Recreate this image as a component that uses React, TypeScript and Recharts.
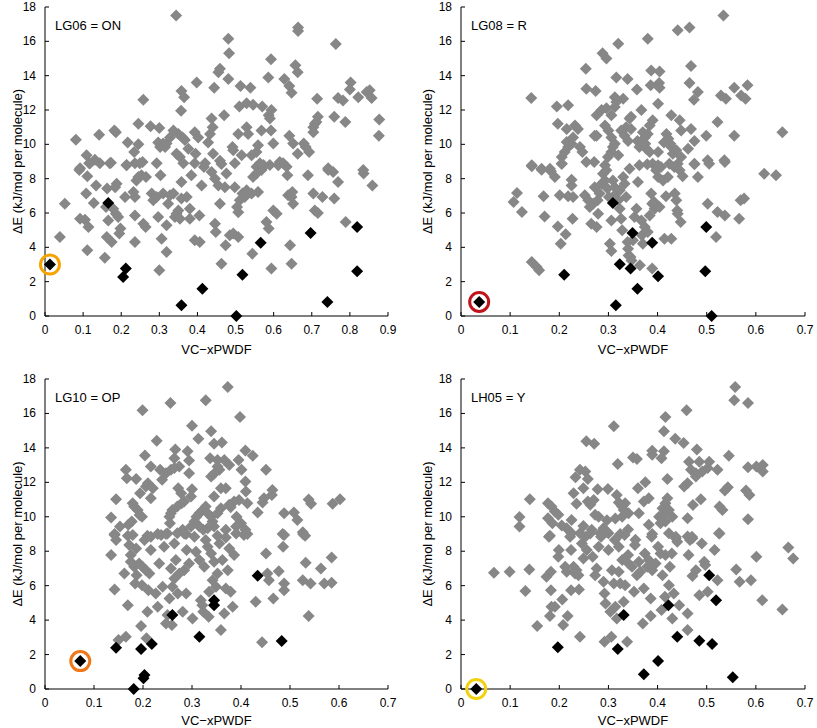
import React from 'react';
import { ScatterChart, Scatter, XAxis, YAxis } from 'recharts';

const FONT = '"Liberation Sans", Arial, Helvetica, sans-serif';
const GRAY = '#878787';

const yTicks = [0, 2, 4, 6, 8, 10, 12, 14, 16, 18];
const xTicks09 = [0, 0.1, 0.2, 0.3, 0.4, 0.5, 0.6, 0.7, 0.8, 0.9];
const xTicks07 = [0, 0.1, 0.2, 0.3, 0.4, 0.5, 0.6, 0.7];

const xTitle = 'VC\u2212xPWDF';
const yTitle = '\u0394E (kJ/mol per molecule)';

// ---------- LG06 = ON ----------
const lg06Gray: number[][] = [
  [0.081,10.27],[0.109,9.36],[0.092,8.6],[0.118,8.9],[0.131,9.1],[0.142,10.56],[0.173,8.93],[0.182,10.8],[0.186,10.7],[0.217,10.1],[0.214,8.8],
  [0.245,11.2],[0.245,10.0],[0.234,9.55],[0.256,8.97],[0.258,12.6],[0.277,11.05],[0.297,10.1],[0.3,10.95],[0.293,8.9],[0.31,10.05],[0.302,9.85],[0.319,10.05],[0.315,9.85],
  [0.328,10.4],[0.337,10.8],[0.344,17.5],[0.357,11.95],[0.358,13.1],[0.365,12.75],[0.35,10.6],[0.361,10.4],[0.367,10.25],[0.345,9.45],[0.354,9.26],[0.376,9.75],[0.398,13.6],[0.393,10.7],[0.402,10.4],[0.395,9.45],
  [0.42,8.9],[0.428,10.1],[0.433,10.6],[0.437,11.5],[0.44,11.0],[0.444,13.3],[0.441,9.45],[0.455,14.2],[0.459,14.4],[0.459,9.05],[0.463,8.85],[0.47,11.7],[0.481,16.15],[0.483,15.3],[0.481,13.8],[0.492,9.85],[0.494,9.65],[0.51,12.2],
  [0.507,10.6],[0.513,13.4],[0.529,12.4],[0.529,11.0],[0.533,10.6],[0.539,13.3],[0.546,12.3],[0.516,9.36],[0.542,9.36],[0.555,9.55],[0.559,9.95],[0.568,10.8],[0.57,12.2],[0.587,11.7],[0.59,11.5],[0.586,13.9],[0.593,14.95],[0.594,12.0],[0.593,10.8],[0.599,10.05],[0.555,8.7],[0.573,8.8],[0.59,8.8],
  [0.616,8.97],[0.634,8.7],[0.628,13.8],[0.641,13.4],[0.647,13.0],[0.657,14.6],[0.663,14.2],[0.664,16.8],[0.664,16.6],[0.641,10.5],[0.651,10.05],[0.663,9.45],[0.679,10.05],[0.684,9.85],[0.693,9.55],
  [0.704,11.0],[0.708,11.2],[0.712,11.3],[0.716,11.6],[0.714,12.65],[0.704,10.7],[0.743,8.6],[0.759,11.6],[0.763,15.85],[0.769,12.7],[0.782,12.55],[0.788,11.3],
  [0.802,13.6],[0.8,13.2],[0.822,12.75],[0.844,13.05],[0.852,13.15],[0.857,12.7],[0.835,8.5],[0.877,11.45],[0.876,10.5],
  [0.052,6.54],[0.039,4.6],[0.09,8.5],[0.092,5.67],[0.105,5.6],[0.111,3.83],
  [0.111,8.14],[0.108,7.13],[0.114,5.18],[0.116,8.9],[0.128,6.58],[0.134,7.6],[0.144,8.9],[0.157,3.4],[0.16,6.35],[0.162,4.6],[0.166,5.57],[0.163,7.42],[0.175,4.31],[0.17,8.9],[0.184,7.5],[0.188,7.7],[0.179,6.25],[0.186,5.96],[0.192,5.77],[0.198,5.09],[0.195,4.8],
  [0.21,6.93],[0.214,8.78],[0.232,7.22],[0.236,6.93],[0.24,7.9],[0.245,8.1],[0.253,8.2],[0.265,8.1],[0.236,5.86],[0.236,4.31],[0.258,5.38],[0.264,5.18],[0.236,8.9],[0.249,8.9],[0.28,7.13],[0.284,6.74],[0.293,6.93],[0.297,5.77],[0.3,2.66],[0.306,4.5],[0.31,7.13],[0.303,8.2],
  [0.319,3.73],[0.319,5.28],[0.323,6.54],[0.328,7.03],[0.337,7.13],[0.341,5.77],[0.345,5.96],[0.35,6.15],[0.358,6.84],[0.358,7.8],[0.354,5.67],[0.372,6.93],[0.38,6.25],[0.38,5.67],[0.384,8.2],[0.393,4.41],[0.405,5.86],[0.406,4.31],[0.393,8.9],[0.363,8.9],
  [0.411,7.6],[0.417,8.68],[0.437,8.39],[0.446,8.0],[0.446,5.38],[0.448,4.9],[0.455,7.6],[0.459,6.54],[0.463,3.05],[0.472,7.5],[0.474,4.12],[0.476,8.3],[0.485,4.7],[0.494,4.8],[0.498,7.5],[0.504,6.35],[0.507,6.05],[0.507,4.6],[0.498,8.9],
  [0.511,6.74],[0.518,7.13],[0.524,6.93],[0.529,7.32],[0.542,7.13],[0.544,3.63],[0.546,8.1],[0.555,8.3],[0.559,7.22],[0.568,8.5],[0.573,8.68],[0.564,8.9],[0.581,5.48],[0.587,5.09],[0.594,2.76],[0.599,6.15],
  [0.608,5.96],[0.612,8.78],[0.625,8.9],[0.636,8.2],[0.638,7.03],[0.647,6.93],[0.649,7.22],[0.643,4.12],[0.647,3.05],[0.651,6.54],[0.69,8.2],
  [0.704,7.13],[0.708,6.15],[0.716,6.0],[0.728,6.93],[0.743,8.5],[0.756,8.39],[0.759,6.84],[0.769,7.8],[0.789,5.48],
  [0.836,8.3],[0.859,7.6],
];
const lg06Black: number[][] = [
  [0.013,3.0],[0.166,6.58],[0.205,2.27],[0.212,2.76],[0.358,0.62],[0.413,1.59],[0.502,0.0],[0.518,2.41],[0.566,4.27],[0.697,4.84],[0.741,0.82],[0.819,5.18],[0.819,2.6],
];
const lg06Ring: number[][] = [[0.013,3.0]];

// ---------- LG08 = R ----------
const lg08Gray: number[][] = [
  [0.143,12.7],[0.195,12.2],[0.218,12.27],[0.197,11.2],[0.254,14.4],[0.255,13.24],[0.274,13.1],[0.288,15.3],[0.296,15.0],[0.32,15.86],[0.316,13.9],[0.339,13.8],[0.358,13.2],[0.38,16.15],[0.387,14.3],[0.404,14.25],[0.386,13.44],[0.403,13.57],[0.404,13.3],[0.401,12.37],
  [0.441,16.64],[0.465,16.8],[0.534,17.5],[0.468,14.56],[0.465,13.57],[0.482,13.05],[0.474,12.6],[0.529,12.85],[0.539,12.66],[0.556,13.3],[0.57,12.85],[0.583,13.44],[0.579,12.66],[0.522,11.3],[0.556,10.5],[0.654,10.7],[0.499,10.5],[0.475,10.2],[0.468,10.9],[0.448,10.8],
  [0.428,11.7],[0.445,11.4],[0.367,12.0],[0.346,11.6],[0.343,11.5],[0.313,12.75],[0.316,12.47],[0.313,12.17],[0.33,12.66],[0.276,11.7],[0.286,12.0],[0.296,12.1],[0.306,11.7],[0.293,11.1],[0.3,10.8],[0.306,10.4],[0.313,10.04],[0.309,9.85],[0.276,10.5],
  [0.326,10.8],[0.333,10.5],[0.34,10.2],[0.336,11.0],[0.346,10.9],[0.359,10.2],[0.363,9.85],[0.37,10.7],[0.374,10.4],[0.375,10.04],[0.377,9.75],[0.384,11.1],[0.39,11.4],[0.384,9.55],[0.38,10.6],[0.401,9.55],[0.413,10.1],[0.418,10.6],[0.422,10.33],[0.426,10.04],[0.428,9.85],[0.431,9.45],[0.438,9.65],[0.448,9.26],[0.475,8.87],[0.502,9.07],[0.536,9.07],[0.462,9.75],
  [0.215,10.13],[0.218,9.85],[0.211,9.55],[0.205,9.26],[0.225,10.04],[0.242,9.85],[0.247,9.55],[0.228,10.4],[0.215,10.9],[0.238,10.9],[0.232,11.1],[0.255,8.97],[0.271,8.97],[0.272,10.5],[0.299,9.26],[0.306,9.55],[0.32,9.36],[0.293,8.78],[0.343,8.58],[0.363,8.78],[0.39,8.87],[0.401,8.78],[0.424,8.87],[0.434,8.68],[0.441,8.87],[0.144,8.78],[0.164,8.58],[0.181,8.58],[0.205,8.87],
  [0.107,6.64],[0.114,7.17],[0.124,6.06],[0.144,8.72],[0.144,3.15],[0.154,2.85],[0.159,2.66],[0.168,6.97],[0.164,8.52],[0.17,5.8],[0.183,8.43],[0.191,8.1],[0.197,5.22],[0.201,7.03],[0.203,4.21],[0.205,8.87],[0.213,4.76],[0.218,6.97],[0.225,7.94],[0.225,7.6],[0.227,5.67],[0.228,6.93],
  [0.252,7.03],[0.259,6.74],[0.262,6.35],[0.265,5.38],[0.269,6.54],[0.272,7.5],[0.276,5.18],[0.278,6.74],[0.279,5.96],[0.282,7.13],[0.286,7.7],[0.289,8.29],[0.293,7.9],[0.296,8.49],[0.298,7.42],[0.301,6.93],[0.303,4.21],[0.306,3.79],[0.306,5.57],[0.309,7.9],[0.313,7.5],[0.316,7.13],[0.32,6.74],[0.323,6.25],[0.326,5.67],[0.328,4.99],[0.323,7.32],[0.33,8.1],[0.333,7.7],[0.336,6.93],
  [0.339,4.31],[0.34,3.92],[0.341,3.53],[0.345,3.44],[0.347,3.24],[0.35,4.41],[0.353,5.77],[0.357,6.25],[0.36,7.8],[0.364,2.95],[0.367,5.57],[0.368,4.7],[0.37,4.21],[0.374,5.18],[0.379,8.84],[0.38,4.9],[0.384,5.86],[0.387,7.13],[0.389,6.54],[0.393,6.64],[0.394,6.25],[0.389,2.76],[0.397,8.49],[0.401,8.1],[0.404,6.35],[0.407,8.68],[0.411,7.9],[0.414,4.5],[0.417,6.97],[0.421,8.1],[0.428,4.5],
  [0.435,7.13],[0.438,6.74],[0.44,6.15],[0.441,5.96],[0.445,8.49],[0.447,5.48],[0.451,8.14],[0.475,8.84],[0.482,8.1],[0.502,6.54],[0.505,8.87],[0.519,4.6],[0.522,6.06],[0.537,5.86],[0.537,8.97],[0.566,5.67],[0.569,6.74],[0.576,6.84],[0.617,8.29],[0.641,8.2],
];
const lg08Black: number[][] = [
  [0.037,0.82],[0.21,2.41],[0.309,6.58],[0.323,3.01],[0.349,4.83],[0.345,2.76],[0.359,1.59],[0.315,0.62],[0.389,4.27],[0.401,2.31],[0.499,5.18],[0.497,2.6],[0.51,0.0],
];
const lg08Ring: number[][] = [[0.037,0.82]];

// ---------- LG10 = OP ----------
const lg10Gray: number[][] = [
  [0.199,16.18],[0.256,16.6],[0.328,16.76],[0.373,17.53],[0.398,15.8],[0.3,15.29],[0.339,14.96],[0.313,14.53],[0.228,14.41],[0.345,14.24],[0.361,14.32],[0.266,13.9],[0.291,13.8],[0.409,13.85],[0.424,13.54],[0.204,13.56],[0.264,13.4],[0.337,13.4],[0.352,13.3],[0.366,13.3],[0.376,13.0],[0.395,13.3],[0.401,12.73],[0.451,12.73],
  [0.216,12.92],[0.294,13.27],[0.235,12.73],[0.247,12.53],[0.257,12.73],[0.264,12.83],[0.274,12.92],[0.165,12.73],[0.167,12.24],[0.186,12.19],[0.294,12.53],[0.352,12.92],[0.356,12.73],[0.339,12.34],[0.345,12.5],[0.21,11.95],[0.206,11.76],[0.22,11.66],[0.239,12.15],[0.194,11.37],[0.216,11.08],[0.145,11.02],
  [0.272,11.66],[0.278,11.37],[0.3,11.6],[0.298,11.18],[0.345,11.18],[0.359,11.66],[0.369,11.66],[0.409,12.05],[0.41,11.47],[0.413,10.79],[0.376,10.7],[0.386,10.89],[0.396,10.98],[0.464,11.56],[0.463,11.27],[0.447,11.08],[0.444,10.83],[0.434,10.25],[0.488,10.21],[0.508,10.25],[0.515,9.82],[0.538,11.0],[0.543,10.75],[0.587,10.75],[0.602,11.02],
  [0.135,9.96],[0.153,9.43],[0.17,9.53],[0.177,9.73],[0.179,10.79],[0.182,10.6],[0.189,10.4],[0.193,10.1],[0.198,10.0],[0.142,9.0],[0.169,8.9],[0.209,8.9],[0.23,9.0],[0.247,9.0],[0.254,10.0],[0.255,9.63],[0.257,10.2],[0.26,10.4],[0.27,10.6],[0.279,10.79],[0.284,10.89],
  [0.27,9.05],[0.281,9.24],[0.288,9.0],[0.298,9.43],[0.305,9.73],[0.309,10.0],[0.315,10.2],[0.322,10.4],[0.328,10.6],[0.332,10.2],[0.339,10.0],[0.342,9.73],[0.345,9.43],[0.332,9.34],[0.315,9.43],[0.323,9.24],[0.352,10.2],[0.359,10.5],[0.352,8.9],[0.369,9.24],[0.379,10.56],[0.391,10.0],[0.369,8.8],[0.39,9.43],[0.4,9.63],[0.409,9.24],[0.413,9.0],[0.485,9.0],[0.526,9.1],[0.531,8.9],
  [0.135,7.78],[0.142,8.94],[0.142,5.78],[0.145,8.65],[0.15,2.84],[0.162,6.71],[0.165,3.04],[0.169,4.87],[0.172,8.36],[0.175,7.78],[0.175,7.39],[0.179,8.94],[0.182,7.1],[0.184,6.13],[0.186,8.16],[0.187,6.61],[0.192,7.29],[0.196,3.66],[0.198,6.03],[0.199,7.1],[0.203,8.65],[0.206,6.9],[0.207,2.94],[0.209,4.49],[0.211,5.74],[0.213,6.71],[0.216,8.84],[0.216,8.07],
  [0.226,5.55],[0.23,4.78],[0.233,7.29],[0.237,8.94],[0.24,5.94],[0.243,8.26],[0.247,3.81],[0.25,9.03],[0.25,4.29],[0.254,5.26],[0.257,7.0],[0.259,3.71],[0.26,5.94],[0.264,8.45],[0.264,6.42],[0.267,7.49],[0.271,5.55],[0.274,6.71],[0.281,4.49],[0.284,9.03],[0.284,6.9],[0.288,5.55],[0.289,8.07],[0.294,7.29],
  [0.301,4.1],[0.305,8.84],[0.308,7.97],[0.315,7.49],[0.318,5.16],[0.321,4.87],[0.323,4.49],[0.325,7.1],[0.328,8.65],[0.332,8.26],[0.334,4.2],[0.335,5.65],[0.339,7.87],[0.342,6.32],[0.345,7.39],[0.349,5.94],[0.352,6.71],[0.356,8.45],[0.359,3.42],[0.362,7.49],[0.366,4.39],[0.369,5.84],[0.373,6.9],[0.376,8.16],[0.379,5.65],[0.383,4.78],[0.386,7.78],[0.39,9.03],[0.406,8.94],
  [0.43,5.07],[0.451,7.87],[0.454,6.71],[0.457,6.32],[0.466,5.26],[0.477,6.84],[0.486,8.26],[0.488,6.13],[0.488,5.74],[0.488,8.94],[0.443,2.71],[0.527,8.99],[0.532,7.33],[0.538,4.24],[0.526,6.32],[0.542,6.13],[0.563,7.0],[0.57,6.13],[0.585,7.64],[0.585,6.17],
];
const lg10Black: number[][] = [
  [0.072,1.62],[0.145,2.4],[0.196,2.32],[0.218,2.61],[0.203,0.81],[0.201,0.62],[0.181,0.0],[0.26,4.29],[0.315,3.04],[0.345,5.16],[0.345,4.87],[0.434,6.58],[0.483,2.79],
];
const lg10Ring: number[][] = [[0.072,1.62]];

// ---------- LH05 = Y ----------
const lh05Gray: number[][] = [
  [0.558,17.53],[0.556,16.76],[0.584,16.6],[0.459,16.18],[0.416,15.8],[0.311,15.25],[0.413,14.96],[0.436,14.53],[0.453,14.28],[0.255,14.38],[0.271,14.24],[0.48,13.9],[0.389,13.83],[0.413,13.8],[0.35,13.44],[0.358,13.35],[0.389,13.6],[0.408,13.4],[0.545,13.54],
  [0.464,13.2],[0.485,13.2],[0.505,13.2],[0.319,13.06],[0.584,12.87],[0.601,12.92],[0.614,13.0],[0.614,12.63],[0.468,12.73],[0.478,12.53],[0.491,12.63],[0.502,12.83],[0.478,12.34],[0.522,12.73],[0.242,12.73],[0.253,12.63],[0.233,12.3],[0.258,12.19],[0.42,12.19],[0.375,12.0],[0.36,11.66],
  [0.454,11.76],[0.461,11.95],[0.543,11.72],[0.537,11.53],[0.58,11.53],[0.587,11.27],[0.229,11.37],[0.249,11.66],[0.278,11.6],[0.299,11.62],[0.317,11.27],[0.334,10.79],[0.14,11.02],[0.177,10.79],[0.184,10.6],[0.191,10.31],[0.198,10.12],[0.235,10.75],[0.258,10.89],[0.263,10.7],[0.27,10.98],[0.273,10.12],[0.28,10.0],
  [0.321,10.83],[0.328,10.6],[0.331,10.4],[0.341,10.2],[0.328,10.0],[0.314,9.9],[0.297,9.8],[0.362,10.2],[0.372,10.89],[0.382,11.08],[0.403,10.0],[0.41,10.5],[0.416,10.79],[0.42,11.08],[0.423,10.4],[0.416,10.2],[0.43,10.0],[0.406,9.63],[0.416,9.73],[0.488,11.02],[0.472,10.69],[0.526,10.6],[0.532,10.4],[0.584,9.86],[0.461,9.92],
  [0.119,9.98],[0.119,9.43],[0.177,9.92],[0.186,9.63],[0.205,9.5],[0.215,9.34],[0.225,9.82],[0.225,9.05],[0.242,9.05],[0.249,9.47],[0.266,9.24],[0.283,9.05],[0.29,9.34],[0.3,9.05],[0.324,9.0],[0.34,9.26],[0.382,9.53],[0.389,9.0],[0.423,9.05],[0.437,8.76],[0.461,8.85],[0.471,8.76],[0.525,9.05],[0.181,8.9],[0.355,8.66],
  [0.067,6.75],[0.099,6.81],[0.131,5.69],[0.139,6.94],[0.155,3.66],[0.174,6.52],[0.179,8.84],[0.183,6.81],[0.183,5.74],[0.184,4.78],[0.191,4.78],[0.181,4.24],[0.198,7.68],[0.199,8.07],[0.208,3.71],[0.206,5.2],[0.212,7.1],[0.215,6.81],[0.217,4.24],[0.222,8.84],[0.224,8.07],[0.224,5.74],[0.229,7.1],[0.232,6.71],[0.235,6.9],[0.239,6.61],[0.24,5.78],[0.242,3.04],
  [0.246,8.45],[0.249,7.58],[0.253,8.84],[0.256,8.07],[0.263,9.03],[0.268,7.68],[0.273,6.61],[0.276,7.0],[0.28,8.26],[0.285,8.84],[0.29,6.23],[0.292,5.55],[0.294,4.97],[0.292,2.75],[0.297,9.13],[0.3,8.07],[0.304,4.49],[0.306,3.04],[0.307,6.9],[0.311,6.13],[0.313,8.65],[0.314,4.78],[0.317,4.1],[0.321,8.26],[0.321,6.81],[0.324,6.13],[0.328,7.49],[0.331,5.07],[0.333,8.94],[0.334,6.03],[0.338,2.75],
  [0.34,7.78],[0.341,7.29],[0.348,7.1],[0.352,5.65],[0.354,8.36],[0.358,6.61],[0.362,7.39],[0.365,6.81],[0.37,3.81],[0.372,5.84],[0.374,7.87],[0.379,7.1],[0.382,7.49],[0.386,5.26],[0.388,8.84],[0.386,4.24],[0.389,6.9],[0.396,7.29],[0.401,8.26],[0.406,7.87],[0.408,4.58],[0.41,6.61],[0.415,5.36],[0.416,7.78],[0.423,6.03],[0.425,7.1],[0.429,7.87],[0.43,4.1],[0.433,5.55],[0.437,8.84],[0.44,8.55],[0.444,4.87],
  [0.461,3.42],[0.461,4.39],[0.463,7.78],[0.466,8.65],[0.47,8.84],[0.471,6.56],[0.478,6.9],[0.485,5.45],[0.49,8.45],[0.495,7.39],[0.497,7.2],[0.502,5.65],[0.516,8.07],[0.522,6.32],[0.526,9.03],[0.56,6.94],[0.567,6.23],[0.59,6.32],[0.601,7.68],[0.613,5.16],[0.654,4.62],[0.666,8.22],[0.676,7.58],
];
const lh05Black: number[][] = [
  [0.031,0.0],[0.197,2.42],[0.319,2.32],[0.331,4.29],[0.372,0.85],[0.401,1.62],[0.422,4.87],[0.44,3.04],[0.485,2.8],[0.505,6.61],[0.519,5.16],[0.511,2.61],[0.553,0.68],
];
const lh05Ring: number[][] = [[0.031,0.0]];

const toPts = (arr: number[][]) => arr.map(([x, y]) => ({ x, y }));

const Diamond = (color: string, r: number) => (props: any) => {
  const { cx, cy } = props;
  if (cx == null || cy == null) return <g />;
  return (
    <polygon
      points={`${cx},${cy - r} ${cx + r},${cy} ${cx},${cy + r} ${cx - r},${cy}`}
      fill={color}
      stroke="none"
    />
  );
};

const Ring = (color: string) => (props: any) => {
  const { cx, cy } = props;
  if (cx == null || cy == null) return <g />;
  return <circle cx={cx} cy={cy} r={9.5} fill="none" stroke={color} strokeWidth={3} />;
};

const BottomTick = (props: any) => {
  const { x, y, payload } = props;
  return (
    <g>
      <line x1={x} y1={y} x2={x} y2={y - 4} stroke="#000" strokeWidth={1} />
      <text x={x} y={y + 14} textAnchor="middle" dominantBaseline="central" fontSize={12} fontFamily={FONT} fill="#000">
        {String(payload.value)}
      </text>
    </g>
  );
};
const LeftTick = (props: any) => {
  const { x, y, payload } = props;
  return (
    <g>
      <line x1={x} y1={y} x2={x + 4} y2={y} stroke="#000" strokeWidth={1} />
      <text x={x - 9} y={y} textAnchor="end" dominantBaseline="central" fontSize={12} fontFamily={FONT} fill="#000">
        {String(payload.value)}
      </text>
    </g>
  );
};
const TopTick = (props: any) => {
  const { x, y } = props;
  return <line x1={x} y1={y} x2={x} y2={y + 4} stroke="#000" strokeWidth={1} />;
};
const RightTick = (props: any) => {
  const { x, y } = props;
  return <line x1={x} y1={y} x2={x - 4} y2={y} stroke="#000" strokeWidth={1} />;
};

type PanelProps = {
  left: number;
  top: number;
  width: number;
  height: number;
  margin: { top: number; right: number; bottom: number; left: number };
  yAxisWidth: number;
  xMax: number;
  xTicks: number[];
  title: string;
  yTitleX: number;
  xTitleDy: number;
  gray: number[][];
  black: number[][];
  ring: number[][];
  ringColor: string;
};

const Panel = (p: PanelProps) => {
  const xLabel = (lp: any) => {
    const vb = lp.viewBox || {};
    return (
      <text x={vb.x + vb.width / 2} y={vb.y + p.xTitleDy} textAnchor="middle" dominantBaseline="central" fontSize={13} fontFamily={FONT} fill="#000">
        {xTitle}
      </text>
    );
  };
  const yLabel = (lp: any) => {
    const vb = lp.viewBox || {};
    const cx = vb.x + p.yTitleX;
    const cy = vb.y + vb.height / 2;
    return (
      <g>
        <text x={cx} y={cy} transform={`rotate(-90, ${cx}, ${cy})`} textAnchor="middle" dominantBaseline="central" fontSize={13} fontFamily={FONT} fill="#000">
          {yTitle}
        </text>
        <text x={vb.x + vb.width + 10} y={vb.y + 18} textAnchor="start" dominantBaseline="central" fontSize={13} fontFamily={FONT} fill="#000">
          {p.title}
        </text>
      </g>
    );
  };
  return (
    <div style={{ position: 'absolute', left: p.left, top: p.top }}>
      <ScatterChart width={p.width} height={p.height} margin={p.margin}>
        <XAxis
          xAxisId="b"
          dataKey="x"
          type="number"
          domain={[0, p.xMax]}
          ticks={p.xTicks}
          interval={0}
          height={34}
          tickSize={0}
          tickMargin={0}
          tickLine={false}
          axisLine={{ stroke: '#000' }}
          tick={<BottomTick />}
          label={xLabel}
        />
        <XAxis
          xAxisId="t"
          orientation="top"
          dataKey="x"
          type="number"
          domain={[0, p.xMax]}
          ticks={p.xTicks}
          interval={0}
          height={0}
          tickSize={0}
          tickMargin={0}
          tickLine={false}
          axisLine={{ stroke: '#000' }}
          tick={<TopTick />}
        />
        <YAxis
          yAxisId="l"
          dataKey="y"
          type="number"
          domain={[0, 18]}
          ticks={yTicks}
          interval={0}
          width={p.yAxisWidth}
          tickSize={0}
          tickMargin={0}
          tickLine={false}
          axisLine={{ stroke: '#000' }}
          tick={<LeftTick />}
          label={yLabel}
        />
        <YAxis
          yAxisId="r"
          orientation="right"
          dataKey="y"
          type="number"
          domain={[0, 18]}
          ticks={yTicks}
          interval={0}
          width={0}
          tickSize={0}
          tickMargin={0}
          tickLine={false}
          axisLine={{ stroke: '#000' }}
          tick={<RightTick />}
        />
        <Scatter xAxisId="b" yAxisId="l" data={toPts(p.gray)} shape={Diamond(GRAY, 6)} isAnimationActive={false} />
        <Scatter xAxisId="b" yAxisId="l" data={toPts(p.black)} shape={Diamond('#000', 6)} isAnimationActive={false} />
        <Scatter xAxisId="t" yAxisId="r" data={toPts(p.ring)} shape={Ring(p.ringColor)} isAnimationActive={false} />
      </ScatterChart>
    </div>
  );
};

export default function App() {
  return (
    <div style={{ position: 'absolute', left: 0, top: 0, width: 817, height: 728, background: '#fff', overflow: 'hidden' }}>
      <Panel
        left={0} top={0} width={400} height={356}
        margin={{ top: 7, right: 12, bottom: 6, left: 0 }}
        yAxisWidth={45} xMax={0.9} xTicks={xTicks09}
        title="LG06 = ON" yTitleX={17} xTitleDy={33}
        gray={lg06Gray} black={lg06Black} ring={lg06Ring} ringColor="#F5A300"
      />
      <Panel
        left={408} top={0} width={408} height={356}
        margin={{ top: 7, right: 11, bottom: 6, left: 0 }}
        yAxisWidth={53} xMax={0.7} xTicks={xTicks07}
        title="LG08 = R" yTitleX={19} xTitleDy={33}
        gray={lg08Gray} black={lg08Black} ring={lg08Ring} ringColor="#C0141C"
      />
      <Panel
        left={0} top={372} width={400} height={356}
        margin={{ top: 7, right: 12, bottom: 5, left: 0 }}
        yAxisWidth={45} xMax={0.7} xTicks={xTicks07}
        title="LG10 = OP" yTitleX={17} xTitleDy={31}
        gray={lg10Gray} black={lg10Black} ring={lg10Ring} ringColor="#F07818"
      />
      <Panel
        left={408} top={372} width={408} height={356}
        margin={{ top: 7, right: 11, bottom: 5, left: 0 }}
        yAxisWidth={53} xMax={0.7} xTicks={xTicks07}
        title="LH05 = Y" yTitleX={19} xTitleDy={31}
        gray={lh05Gray} black={lh05Black} ring={lh05Ring} ringColor="#F2D20E"
      />
    </div>
  );
}
